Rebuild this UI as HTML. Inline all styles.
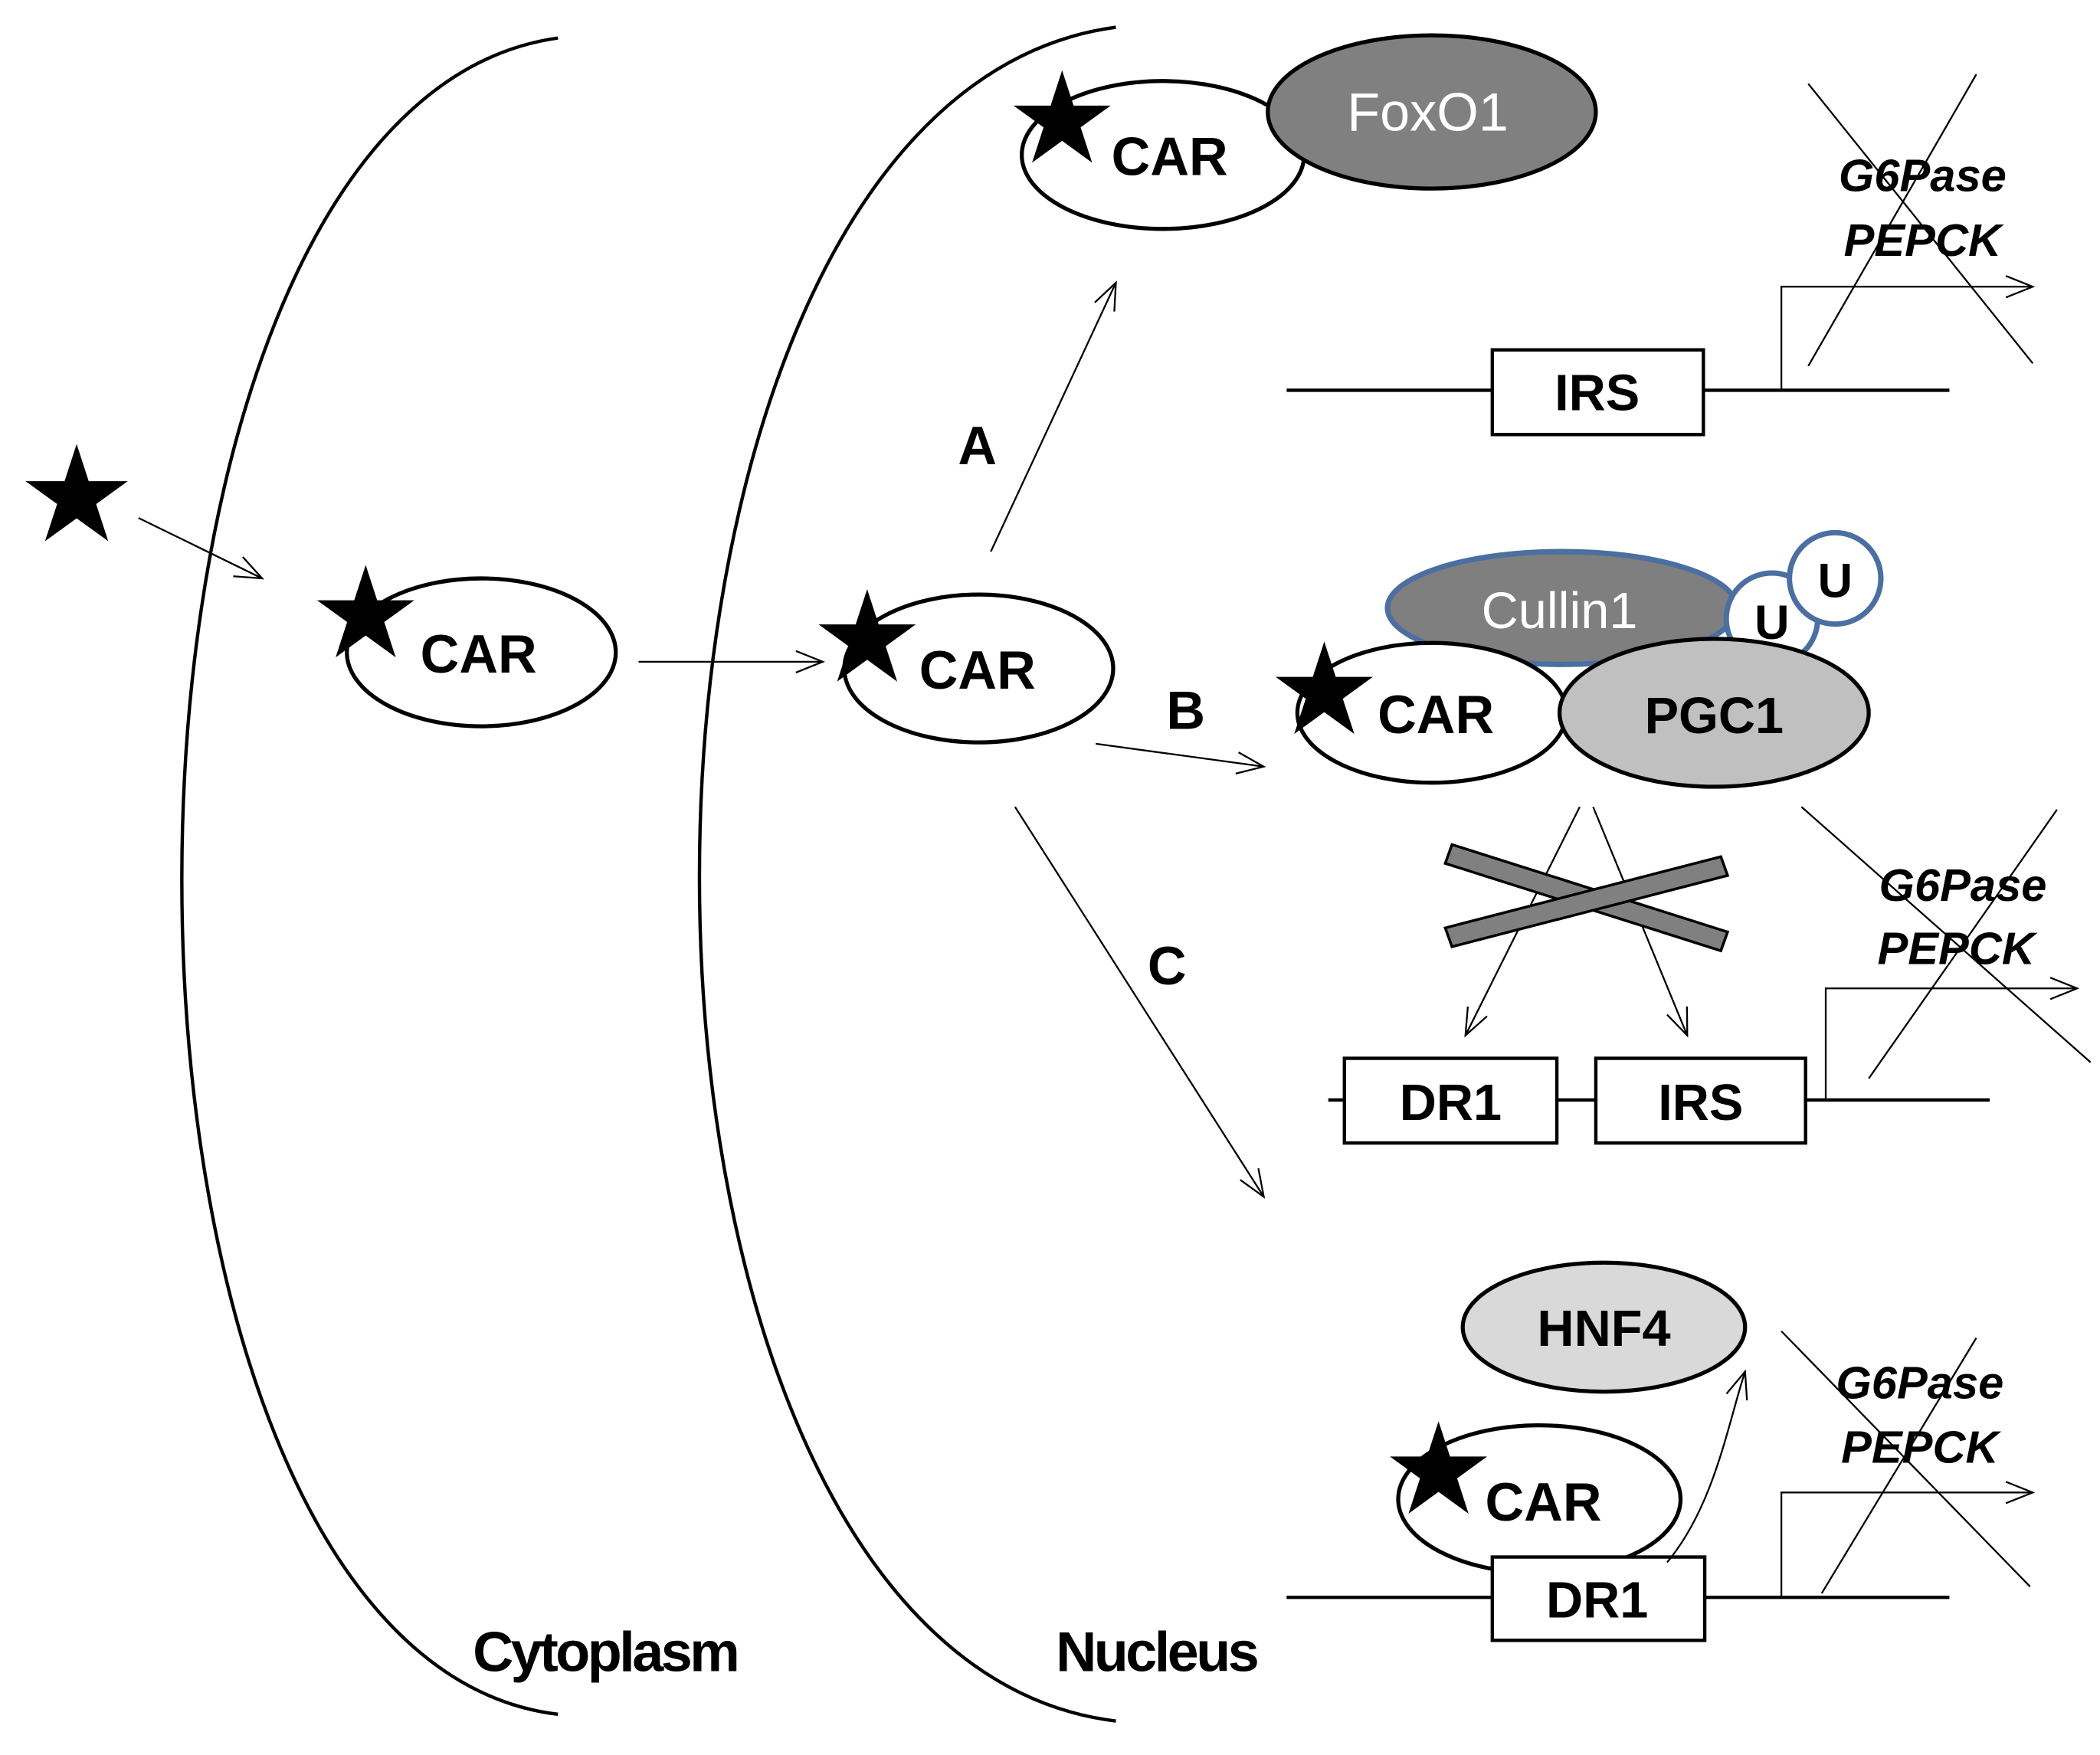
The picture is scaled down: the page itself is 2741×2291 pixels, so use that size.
<!DOCTYPE html>
<html><head><meta charset="utf-8"><style>
html,body{margin:0;padding:0;background:#fff;}
svg{display:block;}
text{font-family:"Liberation Sans",sans-serif;}
</style></head><body>
<svg width="2741" height="2291" viewBox="0 0 1562 1305" xmlns="http://www.w3.org/2000/svg">
<defs>
<polygon id="star" points="0,-1 0.2245,-0.309 0.951,-0.309 0.363,0.118 0.588,0.809 0,0.382 -0.588,0.809 -0.363,0.118 -0.951,-0.309 -0.2245,-0.309" fill="#000"/>
<marker id="ar" markerWidth="24" markerHeight="20" refX="22" refY="10" orient="auto" markerUnits="userSpaceOnUse">
<path d="M2,2 L22,10 L2,18" fill="none" stroke="#000" stroke-width="1.3"/>
</marker>
</defs>
<rect width="1562" height="1305" fill="#fff"/>
<g fill="none" stroke="#000" stroke-width="2.5">
<path d="M415,28 C42,80 42,1230 415,1275"/>
<path d="M830,20 C417,75 417,1230 830,1280"/>
</g>
<!-- free star -->
<use href="#star" transform="translate(57,370) scale(40)"/>
<line x1="103" y1="385" x2="195" y2="430" stroke="#000" stroke-width="1.3" marker-end="url(#ar)"/>
<!-- cytoplasm CAR -->
<ellipse cx="358" cy="485" rx="100" ry="55" fill="#fff" stroke="#000" stroke-width="3"/>
<use href="#star" transform="translate(272,458) scale(38)"/>
<text x="356" y="500" font-size="40" font-weight="bold" text-anchor="middle">CAR</text>
<line x1="475" y1="492" x2="612" y2="492" stroke="#000" stroke-width="1.3" marker-end="url(#ar)"/>
<!-- nucleus CAR -->
<ellipse cx="728" cy="497" rx="100" ry="55" fill="#fff" stroke="#000" stroke-width="3"/>
<use href="#star" transform="translate(645,476) scale(38)"/>
<text x="727" y="512" font-size="40" font-weight="bold" text-anchor="middle">CAR</text>
<g stroke="#000" stroke-width="1.3" marker-end="url(#ar)">
<line x1="737" y1="410" x2="830" y2="210"/>
<line x1="815" y1="553" x2="940" y2="570"/>
<line x1="755" y1="600" x2="940" y2="890"/>
</g>
<g font-size="40" font-weight="bold" text-anchor="middle">
<text x="727" y="345">A</text>
<text x="882" y="542">B</text>
<text x="868" y="732">C</text>
</g>
<!-- A complex -->
<ellipse cx="865" cy="115" rx="105" ry="55" fill="#fff" stroke="#000" stroke-width="3"/>
<ellipse cx="1065" cy="83" rx="122" ry="57" fill="#808080" stroke="#000" stroke-width="3"/>
<text x="1062" y="97" font-size="40" fill="#fff" text-anchor="middle">FoxO1</text>
<use href="#star" transform="translate(790,90) scale(38)"/>
<text x="870" y="130" font-size="40" font-weight="bold" text-anchor="middle">CAR</text>
<!-- A gene -->
<g stroke="#000" stroke-width="2.5" fill="none">
<line x1="957" y1="290" x2="1450" y2="290"/>
<rect x="1110" y="260" width="157" height="63" fill="#fff"/>
<polyline points="1325,290 1325,213 1512,213" stroke-width="1.3" marker-end="url(#ar)"/>
</g>
<text x="1188" y="305" font-size="38" font-weight="bold" text-anchor="middle">IRS</text>
<text x="1430" y="142" font-size="34" font-weight="bold" font-style="italic" text-anchor="middle">G6Pase</text>
<text x="1430" y="190" font-size="34" font-weight="bold" font-style="italic" text-anchor="middle">PEPCK</text>
<g stroke="#000" stroke-width="1.3">
<line x1="1345" y1="62" x2="1512" y2="270"/>
<line x1="1345" y1="272" x2="1470" y2="55"/>
</g>
<!-- B complex -->
<ellipse cx="1162" cy="452" rx="130" ry="42" fill="#7f7f7f" stroke="#4a6fa0" stroke-width="4"/>
<text x="1160" y="467" font-size="38" fill="#fff" text-anchor="middle">Cullin1</text>
<circle cx="1318" cy="460" r="34" fill="#fff" stroke="#4a6fa0" stroke-width="4"/>
<circle cx="1365" cy="430" r="34" fill="#fff" stroke="#4a6fa0" stroke-width="4"/>
<text x="1318" y="475" font-size="36" font-weight="bold" text-anchor="middle">U</text>
<text x="1365" y="444" font-size="36" font-weight="bold" text-anchor="middle">U</text>
<ellipse cx="1065" cy="530" rx="100" ry="52" fill="#fff" stroke="#000" stroke-width="3"/>
<ellipse cx="1275" cy="530" rx="115" ry="55" fill="#c0c0c0" stroke="#000" stroke-width="3"/>
<use href="#star" transform="translate(985,515) scale(38)"/>
<text x="1068" y="545" font-size="40" font-weight="bold" text-anchor="middle">CAR</text>
<text x="1275" y="545" font-size="38" font-weight="bold" text-anchor="middle">PGC1</text>
<g stroke="#000" stroke-width="1.3" marker-end="url(#ar)">
<line x1="1175" y1="600" x2="1090" y2="770"/>
<line x1="1185" y1="600" x2="1255" y2="770"/>
</g>
<g fill="#808080" stroke="#000" stroke-width="2">
<polygon points="1075,642 1080,628 1285,693 1280,707"/>
<polygon points="1075,690 1080,704 1285,651 1280,637"/>
</g>
<!-- B gene -->
<g stroke="#000" stroke-width="2.5" fill="none">
<line x1="988" y1="818" x2="1480" y2="818"/>
<rect x="1000" y="787" width="158" height="63" fill="#fff"/>
<rect x="1187" y="787" width="156" height="63" fill="#fff"/>
<polyline points="1358,818 1358,735 1545,735" stroke-width="1.3" marker-end="url(#ar)"/>
</g>
<text x="1079" y="833" font-size="38" font-weight="bold" text-anchor="middle">DR1</text>
<text x="1265" y="833" font-size="38" font-weight="bold" text-anchor="middle">IRS</text>
<text x="1460" y="670" font-size="34" font-weight="bold" font-style="italic" text-anchor="middle">G6Pase</text>
<text x="1455" y="717" font-size="34" font-weight="bold" font-style="italic" text-anchor="middle">PEPCK</text>
<g stroke="#000" stroke-width="1.3">
<line x1="1340" y1="600" x2="1555" y2="790"/>
<line x1="1390" y1="802" x2="1530" y2="602"/>
</g>
<!-- C -->
<ellipse cx="1193" cy="987" rx="105" ry="48" fill="#d9d9d9" stroke="#000" stroke-width="3"/>
<text x="1193" y="1001" font-size="38" font-weight="bold" text-anchor="middle">HNF4</text>
<ellipse cx="1145" cy="1115" rx="105" ry="55" fill="#fff" stroke="#000" stroke-width="3"/>
<use href="#star" transform="translate(1070,1095) scale(38)"/>
<text x="1148" y="1131" font-size="40" font-weight="bold" text-anchor="middle">CAR</text>
<g stroke="#000" stroke-width="2.5" fill="none">
<line x1="957" y1="1188" x2="1450" y2="1188"/>
<rect x="1110" y="1158" width="158" height="62" fill="#fff"/>
<polyline points="1325,1188 1325,1110 1512,1110" stroke-width="1.3" marker-end="url(#ar)"/>
<path d="M1240,1162 C1275,1120 1285,1060 1298,1020" stroke-width="1.3" marker-end="url(#ar)"/>
</g>
<text x="1188" y="1203" font-size="38" font-weight="bold" text-anchor="middle">DR1</text>
<text x="1428" y="1040" font-size="34" font-weight="bold" font-style="italic" text-anchor="middle">G6Pase</text>
<text x="1428" y="1088" font-size="34" font-weight="bold" font-style="italic" text-anchor="middle">PEPCK</text>
<g stroke="#000" stroke-width="1.3">
<line x1="1325" y1="990" x2="1510" y2="1180"/>
<line x1="1355" y1="1185" x2="1470" y2="995"/>
</g>
<text x="450" y="1243" font-size="42" font-weight="bold" text-anchor="middle" letter-spacing="-2">Cytoplasm</text>
<text x="860" y="1243" font-size="42" font-weight="bold" text-anchor="middle" letter-spacing="-2">Nucleus</text>
</svg>
</body></html>
